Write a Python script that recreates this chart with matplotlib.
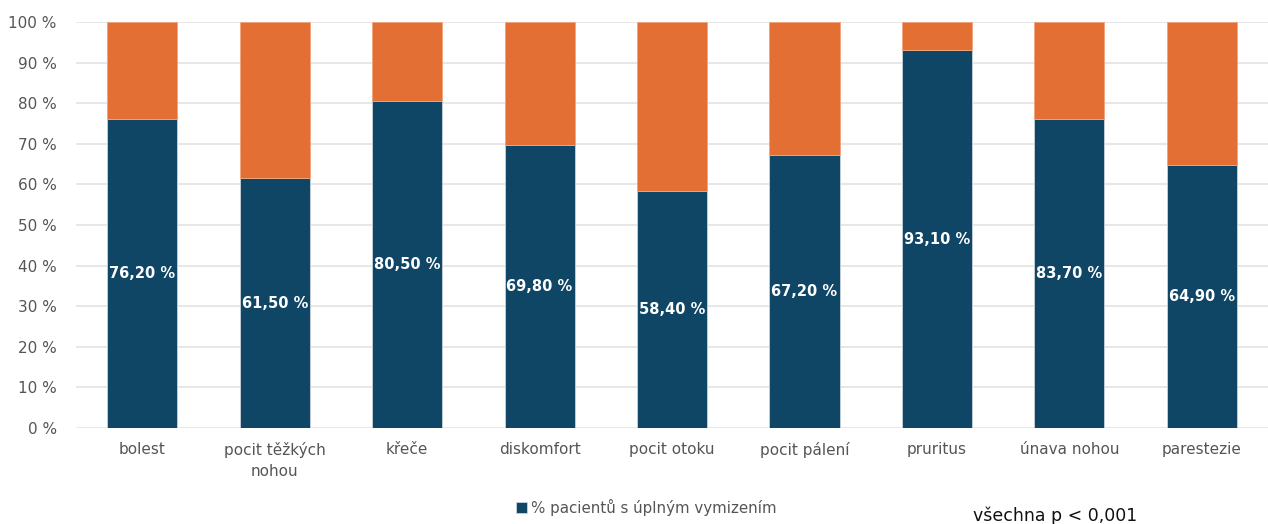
import matplotlib
matplotlib.use("Agg")
import matplotlib.pyplot as plt
import numpy as np

plt.rcParams['font.family'] = ['DejaVu Sans']

categories = ["bolest", "pocit těžkých\nnohou", "křeče", "diskomfort", "pocit otoku",
              "pocit pálení", "pruritus", "únava nohou", "parestezie"]
resolved = [76.2, 61.5, 80.5, 69.8, 58.4, 67.2, 93.1, 76.2, 64.9]
label_texts = ["76,20 %", "61,50 %", "80,50 %", "69,80 %", "58,40 %",
               "67,20 %", "93,10 %", "83,70 %", "64,90 %"]
y_ticks = [0, 10, 20, 30, 40, 50, 60, 70, 80, 90, 100]
legend_label = "% pacientů s úplným vymizením"
note = "všechna p < 0,001"

blue = "#0f4565"
orange = "#e46f34"

fig = plt.figure(figsize=(12.68, 5.24), dpi=100)
ax = fig.add_axes([0.06, 0.183, 0.94, 0.775])

x = np.arange(len(categories))
rest = [100 - v for v in resolved]
b1 = ax.bar(x, resolved, width=0.53, color=blue, edgecolor="#c9d3dc", linewidth=0.6,
            label=legend_label, zorder=3)
ax.bar(x, rest, bottom=resolved, width=0.53, color=orange, edgecolor="#f0a47a",
       linewidth=0.6, zorder=3)

for xi, v, t in zip(x, resolved, label_texts):
    ax.text(xi, v / 2, t, ha="center", va="center", color="white",
            fontsize=10.5, fontweight="bold", zorder=4)

ax.set_xlim(-0.5, len(categories) - 0.5)
ax.set_ylim(0, 100)
ax.set_yticks(y_ticks)
ax.set_yticklabels([f"{t} %" for t in y_ticks])
ax.set_xticks(x)
ax.set_xticklabels(categories, linespacing=1.5)
ax.tick_params(axis="both", length=0, colors="#555555", labelsize=11)
ax.tick_params(axis="x", pad=10)
ax.tick_params(axis="y", pad=14)
ax.grid(axis="y", color="#e3e3e3", linewidth=1.2, zorder=0)
for s in ax.spines.values():
    s.set_visible(False)

fig.legend(handles=[b1], labels=[legend_label], loc="center", bbox_to_anchor=(0.51, 0.032),
           frameon=False, fontsize=10.8, handlelength=0.7, handleheight=0.7,
           handletextpad=0.3, labelcolor="#555555")
fig.text(0.832, 0.015, note, ha="center", va="center", fontsize=12.5, color="#111111")

fig.savefig("out.png", dpi=100)
